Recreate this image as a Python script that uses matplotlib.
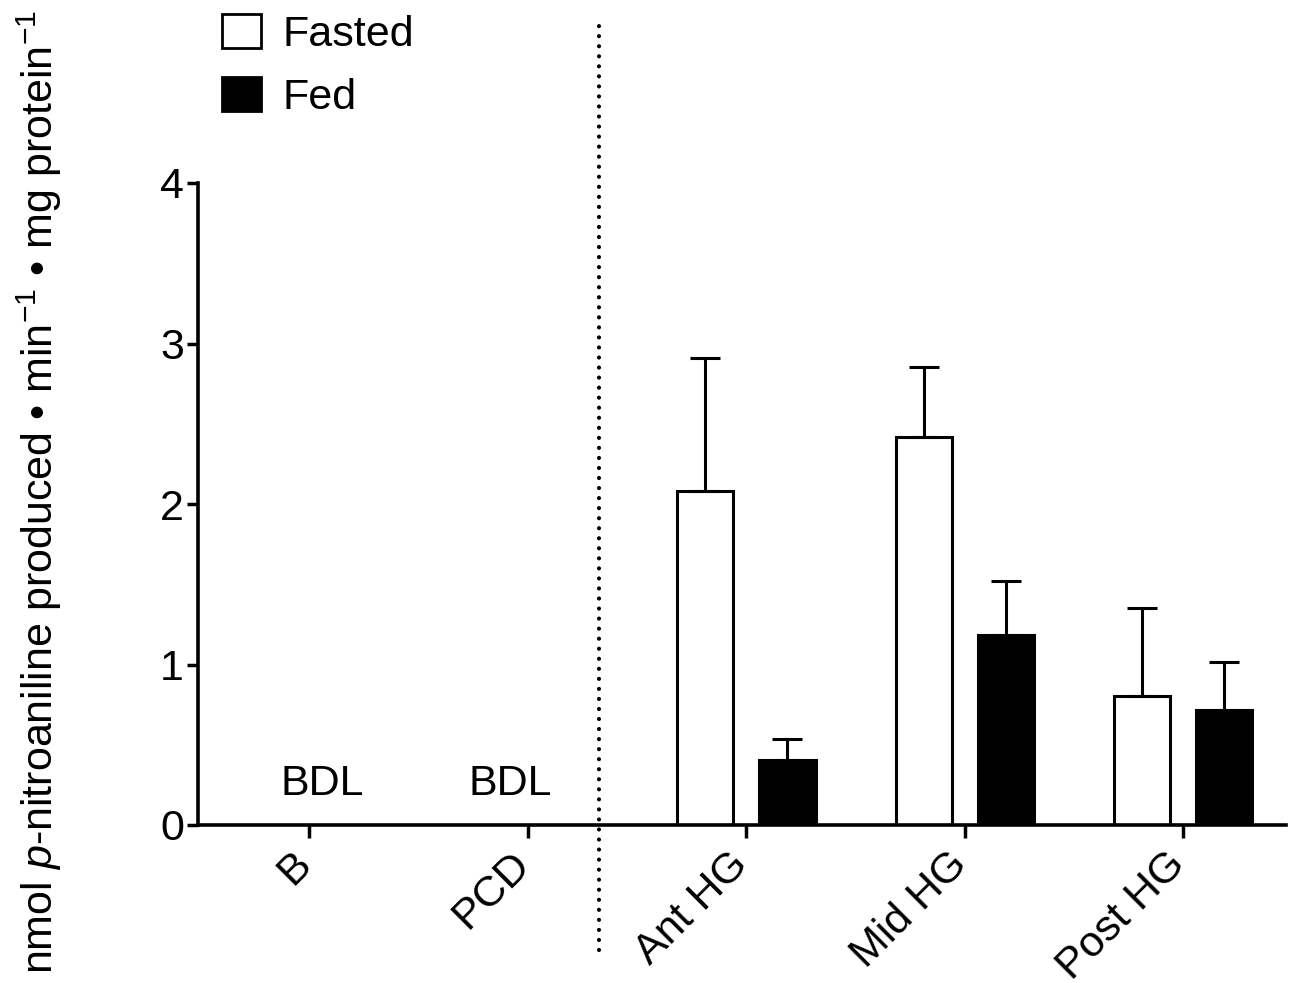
import numpy as np
import matplotlib
matplotlib.use('Agg')
import matplotlib.pyplot as plt
import matplotlib.patches as patches
import matplotlib.transforms as mtransforms

plt.rcParams['font.family'] = ['Liberation Sans', 'DejaVu Sans']
plt.rcParams['mathtext.fontset'] = 'custom'
plt.rcParams['mathtext.rm'] = 'Liberation Sans'
plt.rcParams['mathtext.it'] = 'Liberation Sans:italic'

# dane
categories = ['B', 'PCD', 'Ant HG', 'Mid HG', 'Post HG']
fasted = [np.nan, np.nan, 2.08, 2.415, 0.805]
fasted_err = [0, 0, 0.83, 0.44, 0.545]
fed = [np.nan, np.nan, 0.405, 1.185, 0.715]
fed_err = [0, 0, 0.13, 0.335, 0.30]
bdl_cats = ['B', 'PCD']

fs = 31
fig = plt.figure(figsize=(12.91, 9.83), dpi=100)
ax = fig.add_axes([198 / 1291, 158 / 983, 1088 / 1291, 642 / 983])

x = np.arange(len(categories))
w = 0.257
off = 0.188
ekw = dict(elinewidth=2.2, capthick=2.2, ecolor='black')
ax.bar(x - off, fasted, w, color='white', edgecolor='black', linewidth=2.2,
       yerr=[np.zeros(len(x)), fasted_err], capsize=10.5, error_kw=ekw)
ax.bar(x + off, fed, w, color='black', edgecolor='black', linewidth=2.2,
       yerr=[np.zeros(len(x)), fed_err], capsize=10.5, error_kw=ekw)

# BDL = below detection limit
for c, dx in zip(bdl_cats, [0.06, -0.083]):
    i = categories.index(c)
    ax.text(i + dx, 0.19, 'BDL', ha='center', va='baseline', fontsize=fs)

# kropkowana linia oddzielajaca
ax.axvline(1.325, ymin=-0.195, ymax=1.257, color='black', lw=3.0,
           ls=(0, (0.01, 2.4)), dash_capstyle='round', clip_on=False)

ax.set_xlim(-0.51, 4.47)
ax.set_ylim(0, 4)
ax.set_yticks([0, 1, 2, 3, 4])
ax.set_xticks(x)
ax.tick_params(axis='y', labelsize=fs, width=2.5, length=8, pad=2)
ax.tick_params(axis='x', width=2.5, length=9, pad=15)
ax.set_xticklabels(categories, rotation=45, ha='right', va='center',
                   rotation_mode='anchor', fontsize=fs)
shift = mtransforms.ScaledTranslation(-4 / 100, 0, fig.dpi_scale_trans)
for lab in ax.get_xticklabels():
    lab.set_transform(lab.get_transform() + shift)
for s in ['top', 'right']:
    ax.spines[s].set_visible(False)
for s in ['left', 'bottom']:
    ax.spines[s].set_linewidth(2.6)

ax.set_ylabel(r'nmol $\it{p}$-nitroaniline produced • min$^{\mathregular{-1}}$'
              r' • mg protein$^{\mathregular{-1}}$', fontsize=31)
ax.yaxis.set_label_coords(-0.123, 0.519)

handles = [patches.Patch(facecolor='white', edgecolor='black', linewidth=2, label='Fasted'),
           patches.Patch(facecolor='black', edgecolor='black', linewidth=2, label='Fed')]
fig.legend(handles=handles, loc='upper left', bbox_to_anchor=(222 / 1291, 1 - 14 / 983),
           frameon=False, fontsize=fs, handlelength=0.9, handleheight=0.85,
           handletextpad=0.5, labelspacing=0.5, borderpad=0, borderaxespad=0)

fig.savefig('out.png', dpi=100)
